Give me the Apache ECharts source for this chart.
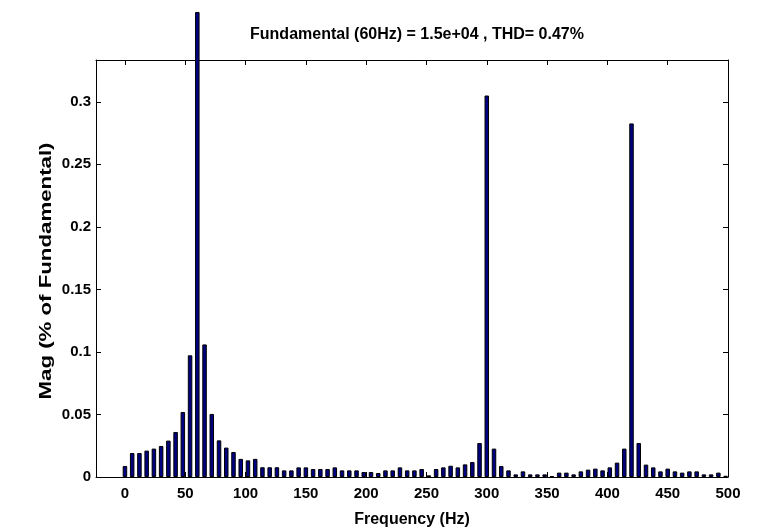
<!DOCTYPE html>
<html>
<head>
<meta charset="utf-8">
<script src="https://cdn.jsdelivr.net/npm/echarts@6/dist/echarts.min.js"></script>
<style>html,body{margin:0;padding:0;background:#fff}#c{width:761px;height:529px}</style>
</head>
<body>
<div id="c"></div>
<script>
// Frequency bins (Hz)
const freqs = [0,6,12,18,24,30,36,42,48,54,60,66,72,78,84,90,96,102,108,114,120,126,132,138,144,150,156,162,168,174,180,186,192,198,204,210,216,222,228,234,240,246,252,258,264,270,276,282,288,294,300,306,312,318,324,330,336,342,348,354,360,366,372,378,384,390,396,402,408,414,420,426,432,438,444,450,456,462,468,474,480,486,492,498];
// Magnitude (% of fundamental); the 60 Hz bar runs off the top of the axes
const mags = [0.0088,0.0192,0.0192,0.0211,0.0227,0.0248,0.0291,0.036,0.052,0.0973,
  0.3718,0.106,0.0504,0.0293,0.0235,0.020,0.0145,0.0133,0.0145,0.0078,
  0.0078,0.0078,0.0053,0.0053,0.0077,0.0077,0.0064,0.0064,0.0064,0.0077,
  0.0053,0.0053,0.0053,0.004,0.004,0.0032,0.0053,0.0053,0.0077,0.0053,
  0.0053,0.0064,0.0013,0.0064,0.0077,0.009,0.0077,0.0101,0.012,0.0272,
  0.305,0.0227,0.0088,0.0053,0.0021,0.0045,0.0021,0.0021,0.0021,0.0008,
  0.0035,0.0035,0.0021,0.0045,0.0059,0.0067,0.0053,0.0077,0.0115,0.0227,
  0.2827,0.0272,0.0099,0.0077,0.0045,0.0067,0.0045,0.0035,0.0045,0.0045,
  0.0021,0.0021,0.0035,0.001];
const xTicks = [0,50,100,150,200,250,300,350,400,450,500];
const yTicks = [0,0.05,0.1,0.15,0.2,0.25,0.3];
const titleText = 'Fundamental (60Hz) = 1.5e+04 , THD= 0.47%';
const xName = 'Frequency (Hz)';
const yName = 'Mag (% of Fundamental)';

const fam = "'Liberation Sans',Arial,Helvetica,sans-serif";
const chart = echarts.init(document.getElementById('c'), null, {renderer:'canvas'});
const axisLine = {show:true, onZero:false, lineStyle:{color:'#000', width:1}};
const tick = (vals) => ({show:true, inside:true, length:5, customValues:vals, lineStyle:{color:'#000', width:1}});
chart.setOption({
  animation:false,
  backgroundColor:'#fff',
  title:{text:titleText, left:412, top:22, textAlign:'center',
    textStyle:{fontFamily:fam, fontWeight:'bold', fontSize:16, color:'#000'}},
  grid:{left:96, right:33, top:60, bottom:52, containLabel:false, outerBoundsMode:'none'},
  xAxis:[{
    type:'value', min:-24, max:500, position:'bottom',
    axisLine, axisTick:tick(xTicks), splitLine:{show:false},
    axisLabel:{customValues:xTicks, margin:9, fontFamily:fam, fontWeight:'bold', fontSize:15, color:'#000'},
    name:xName, nameLocation:'middle', nameGap:35,
    nameTextStyle:{fontFamily:fam, fontWeight:'bold', fontSize:16, color:'#000'}
  },{
    type:'value', min:-24, max:500, position:'top',
    axisLine, axisTick:tick(xTicks), axisLabel:{show:false}, splitLine:{show:false}
  }],
  yAxis:[{
    type:'value', min:0, max:0.3334, position:'left',
    axisLine, axisTick:tick(yTicks), splitLine:{show:false},
    axisLabel:{customValues:yTicks, margin:5, fontFamily:fam, fontWeight:'bold', fontSize:15, color:'#000',
      formatter:(v)=>String(v)}
  },{
    type:'value', min:0, max:0.3334, position:'right',
    axisLine, axisTick:tick(yTicks), axisLabel:{show:false}, splitLine:{show:false}
  }],
  graphic:[{
    type:'text', x:47, y:271, rotation:Math.PI/2, scaleX:1.39,
    style:{text:yName, fill:'#000', font:"bold 16px 'Liberation Sans',Arial,sans-serif",
      textAlign:'center', textVerticalAlign:'middle'}
  }],
  series:[{
    type:'bar', xAxisIndex:0, yAxisIndex:0, clip:false,
    barWidth:4.5, data:freqs.map((f,i)=>[f,mags[i]]),
    itemStyle:{color:'#000080', borderColor:'#000', borderWidth:1}
  }]
});
</script>
</body>
</html>
